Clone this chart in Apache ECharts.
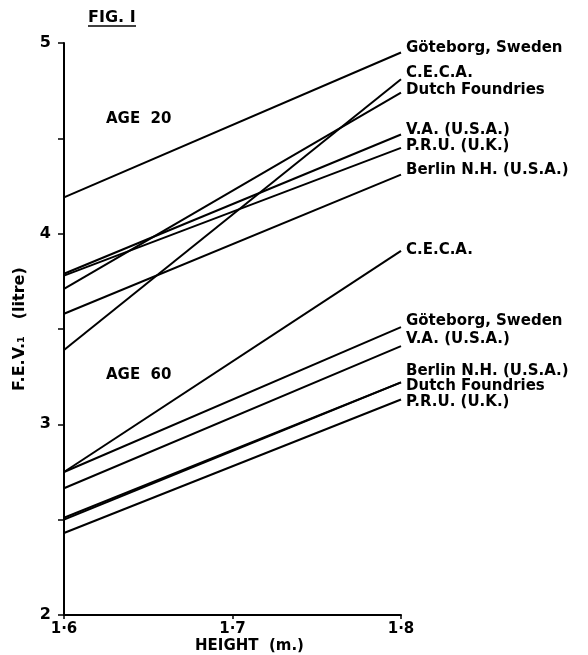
<!DOCTYPE html>
<html>
<head>
<meta charset="utf-8">
<script src="https://cdn.jsdelivr.net/npm/echarts@6/dist/echarts.min.js"></script>
<style>
html,body{margin:0;padding:0;background:#fff;}
#c{width:588px;height:655px;}
</style>
</head>
<body>
<div id="c"></div>
<script>
// ---- data ----
var heights = [1.6, 1.8];
var yTicks = [2, 3, 4, 5];

var age20Names = ['Göteborg, Sweden', 'C.E.C.A.', 'Dutch Foundries', 'V.A. (U.S.A.)', 'P.R.U. (U.K.)', 'Berlin N.H. (U.S.A.)'];
var gote20   = [4.19, 4.95];
var ceca20   = [3.39, 4.81];
var dutch20  = [3.71, 4.74];
var va20     = [3.79, 4.52];
var pru20    = [3.78, 4.45];
var berlin20 = [3.58, 4.31];

var age60Names = ['C.E.C.A.', 'Göteborg, Sweden', 'V.A. (U.S.A.)', 'Berlin N.H. (U.S.A.)', 'Dutch Foundries', 'P.R.U. (U.K.)'];
var ceca60   = [2.75, 3.91];
var gote60   = [2.75, 3.51];
var va60     = [2.665, 3.41];
var berlin60 = [2.51, 3.22];
var dutch60  = [2.50, 3.22];
var pru60    = [2.43, 3.13];

// ---- build ----
var FONT = 'DejaVu Sans';
var age20Vals = [gote20, ceca20, dutch20, va20, pru20, berlin20];
var age60Vals = [ceca60, gote60, va60, berlin60, dutch60, pru60];
var age20Offsets = [-4, -6, -2, -4, -2, -4];
var age60Offsets = [-1, -6, -7, -11, 4, 3];

function mkSeries(name, vals, dy) {
  return {
    type: 'line',
    name: name,
    data: heights.map(function (h, i) { return [h, vals[i]]; }),
    symbol: 'none',
    lineStyle: { color: '#000', width: 2 },
    animation: false,
    endLabel: {
      show: true,
      formatter: name,
      distance: 5,
      offset: [0, dy],
      color: '#000',
      fontFamily: FONT,
      fontWeight: 'bold',
      fontSize: 15
    }
  };
}
var series = [];
age20Names.forEach(function (n, i) { series.push(mkSeries(n, age20Vals[i], age20Offsets[i])); });
age60Names.forEach(function (n, i) { series.push(mkSeries(n, age60Vals[i], age60Offsets[i])); });

var chart = echarts.init(document.getElementById('c'), null, { renderer: 'canvas' });
chart.setOption({
  backgroundColor: '#fff',
  animation: false,
  grid: { left: 64, right: 187, top: 43, bottom: 40 },
  xAxis: {
    type: 'value', min: 1.6, max: 1.8, interval: 0.1,
    axisLine: { show: true, onZero: false, lineStyle: { color: '#000', width: 2 } },
    axisTick: { show: true, length: 4, lineStyle: { color: '#000', width: 1.5 } },
    splitLine: { show: false },
    axisLabel: {
      color: '#000', fontFamily: FONT, fontWeight: 'bold', fontSize: 15, margin: 7,
      formatter: function (v) { return v.toFixed(1).replace('.', '·'); }
    }
  },
  yAxis: {
    type: 'value', min: 2, max: 5, interval: 0.5,
    axisLine: { show: true, onZero: false, lineStyle: { color: '#000', width: 2 } },
    axisTick: { show: true, length: 6, lineStyle: { color: '#000', width: 1.5 } },
    splitLine: { show: false },
    axisLabel: {
      color: '#000', fontFamily: FONT, fontWeight: 'bold', fontSize: 16, margin: 13,
      formatter: function (v) { return yTicks.indexOf(Math.round(v * 2) / 2) >= 0 ? String(v) : ''; }
    }
  },
  series: series,
  graphic: [
    { type: 'text', left: 88, top: 10, style: { text: 'FIG. I', fill: '#000', font: 'bold 16px "DejaVu Sans"' } },
    { type: 'line', shape: { x1: 88, y1: 26, x2: 136, y2: 26 }, style: { stroke: '#000', lineWidth: 1.5 } },
    { type: 'text', left: 106, top: 112, style: { text: 'AGE  20', fill: '#000', font: 'bold 15px "DejaVu Sans"' } },
    { type: 'text', left: 106, top: 368, style: { text: 'AGE  60', fill: '#000', font: 'bold 15px "DejaVu Sans"' } },
    { type: 'text', left: 195, top: 639, style: { text: 'HEIGHT  (m.)', fill: '#000', font: 'bold 15px "DejaVu Sans"' } },
    { type: 'text', x: 12, y: 391, rotation: Math.PI / 2, style: { text: 'F.E.V.₁   (litre)', fill: '#000', font: 'bold 16px "DejaVu Sans"' } }
  ]
});
</script>
</body>
</html>
